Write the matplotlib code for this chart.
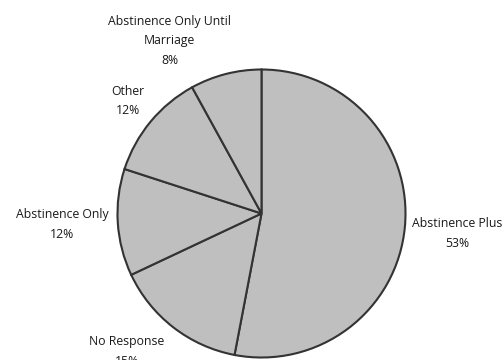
import matplotlib
matplotlib.use("Agg")
import matplotlib.pyplot as plt

categories = ["Abstinence Plus", "No Response", "Abstinence Only", "Other",
              "Abstinence Only Until\nMarriage"]
values = [53, 15, 12, 12, 8]
pct_labels = ["53%", "15%", "12%", "12%", "8%"]
# label anchor positions (in pie-radius units, relative to pie centre)
label_pos = [(1.357, -0.138), (-0.935, -0.96), (-1.385, -0.076),
             (-0.928, 0.782), (-0.637, 1.198)]

fig = plt.figure(figsize=(5.04, 3.6), dpi=100)
ax = fig.add_axes([0, 0, 1, 1])
R = 144.0
cx, cy = 261.5, 213.5
ax.pie(values, startangle=90, counterclock=False, radius=1.0,
       colors=["#bfbfbf"] * len(values),
       wedgeprops=dict(edgecolor="#333333", linewidth=1.5))
ax.set_xlim(-cx / R, (504 - cx) / R)
ax.set_ylim(-(360 - cy) / R, cy / R)
ax.set_aspect("equal")
ax.axis("off")

for cat, pct, (x, y) in zip(categories, pct_labels, label_pos):
    ax.text(x, y, f"{cat}\n{pct}", ha="center", va="center",
            fontsize=8.8, family="Open Sans", color="#1a1a1a", linespacing=1.65)

fig.savefig("out.png", dpi=100)
